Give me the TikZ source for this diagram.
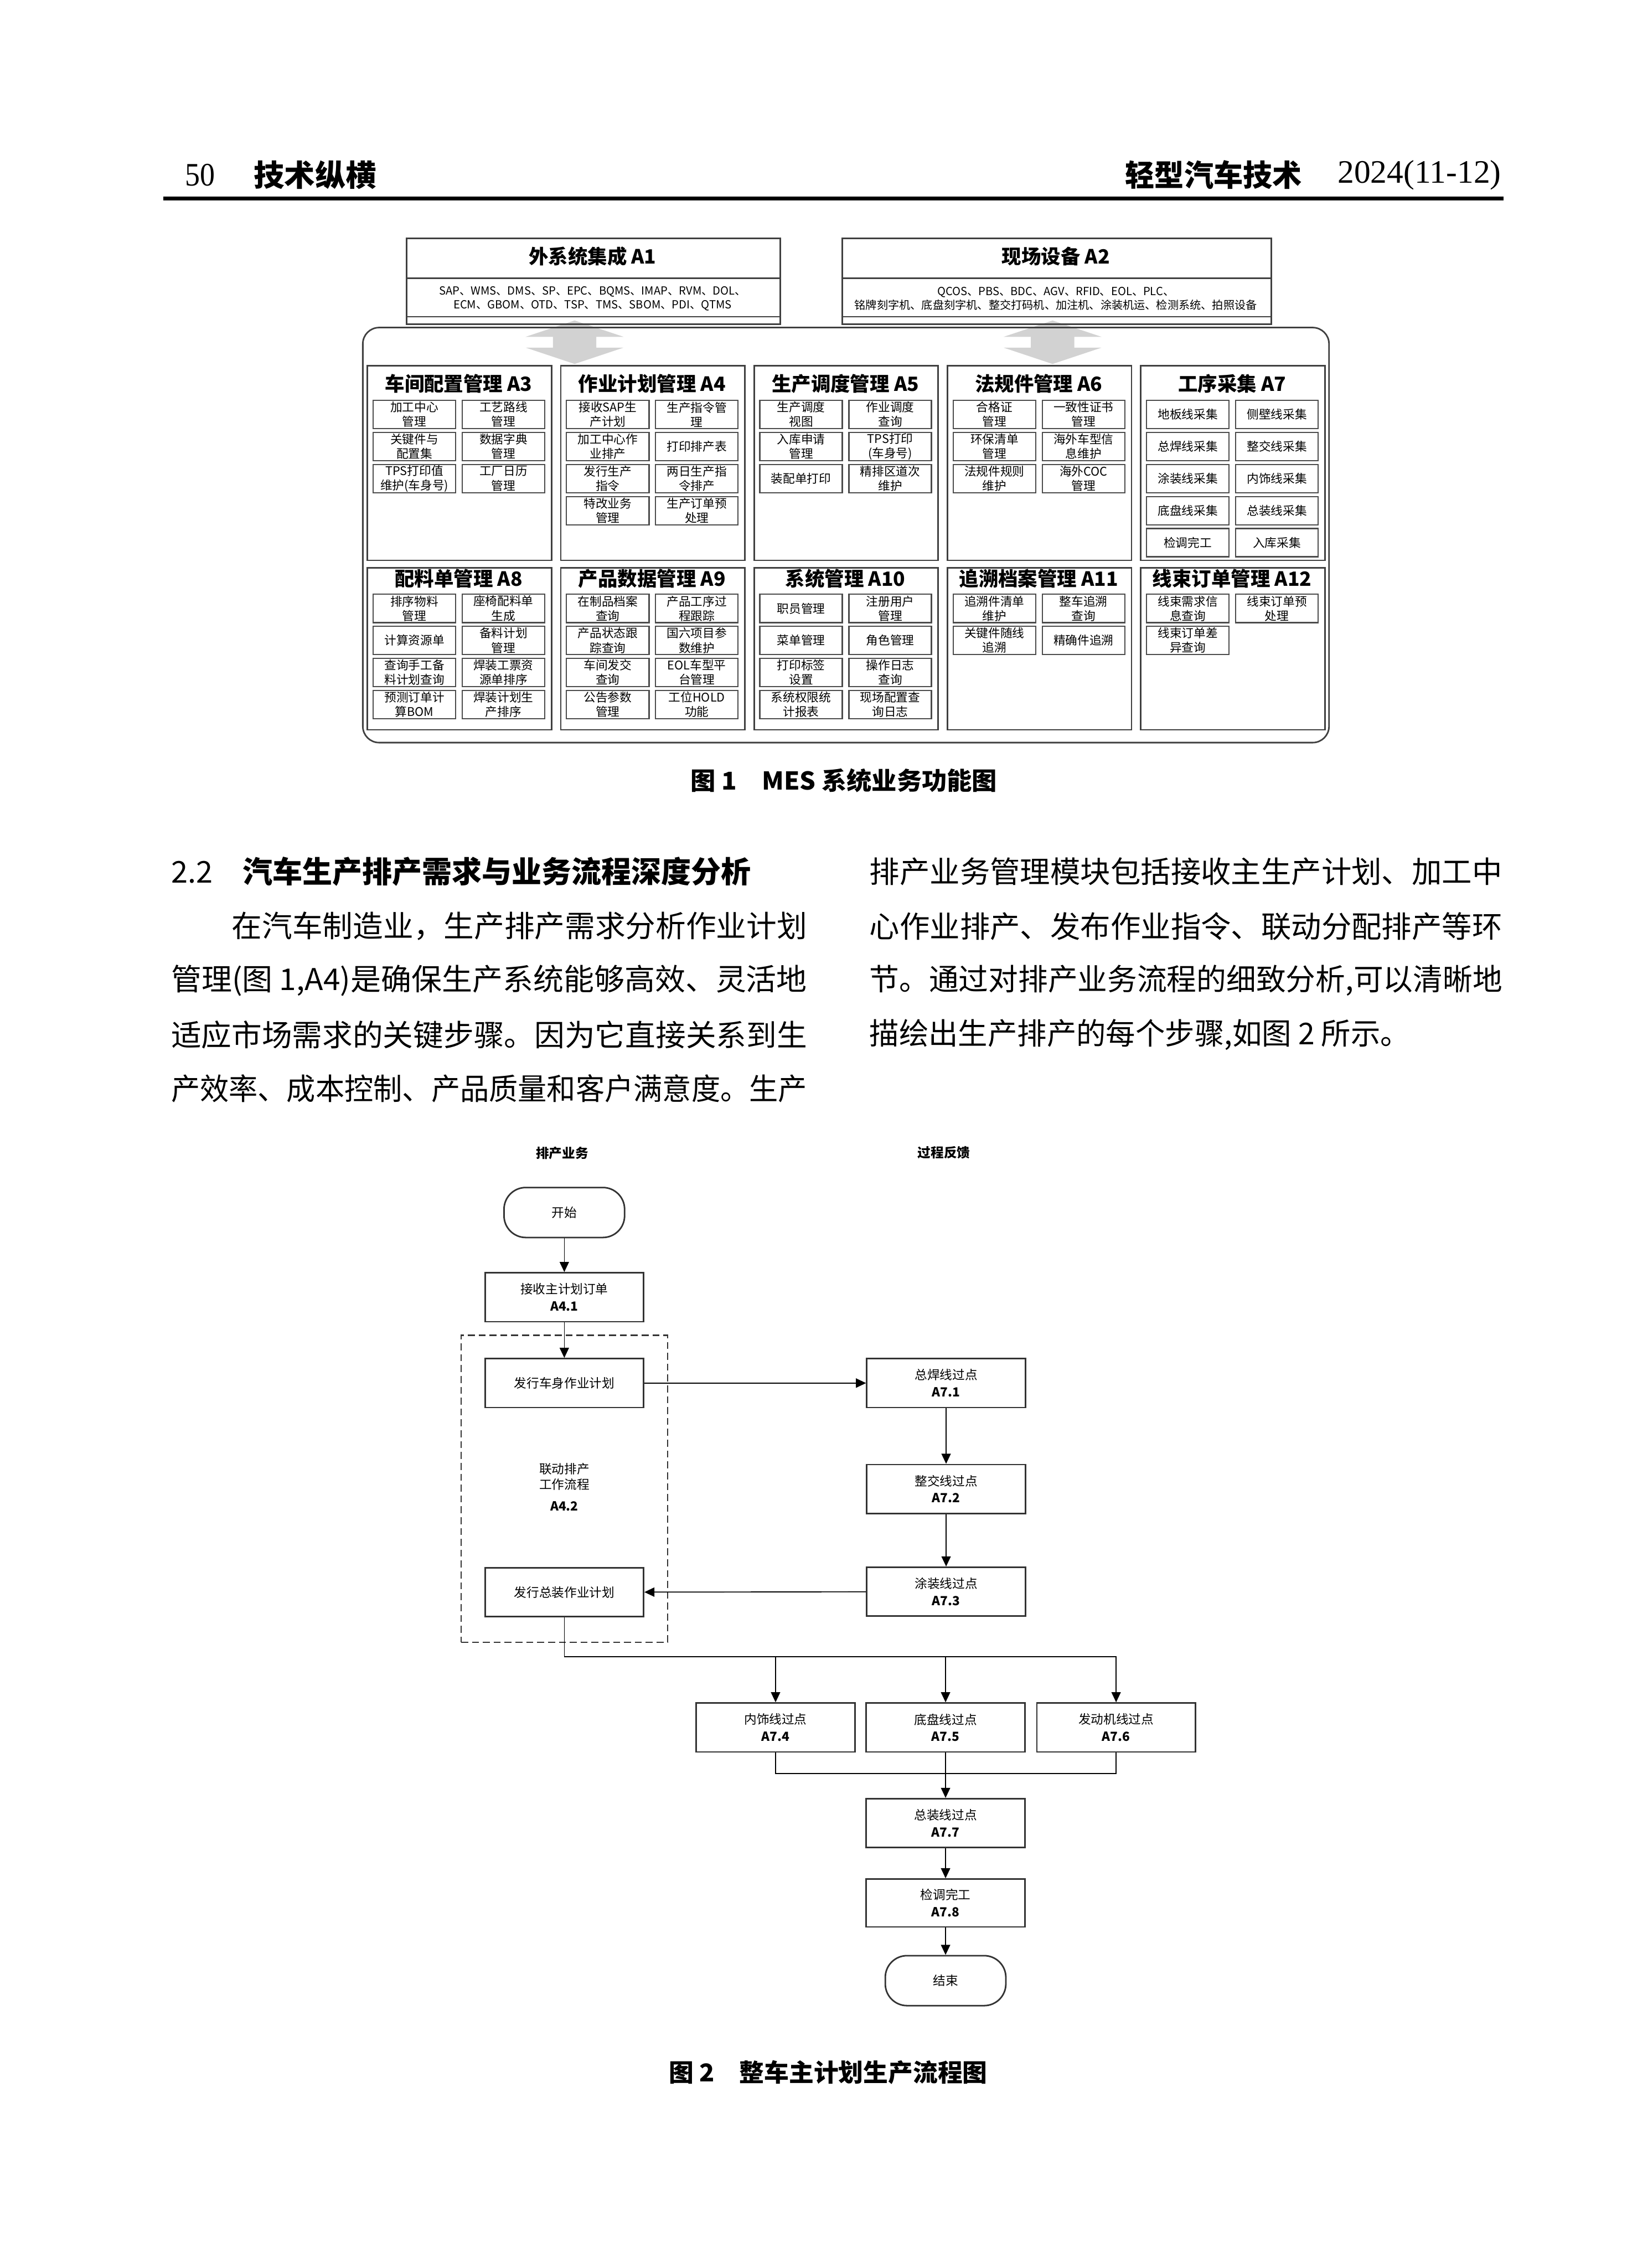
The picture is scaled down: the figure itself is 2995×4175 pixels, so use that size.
\documentclass[tikz,border=0pt]{standalone}
\usepackage{fontspec}
\setmainfont{Noto Sans CJK SC}
\newfontfamily\tnr{Liberation Serif}
\usepackage{graphicx}
\usetikzlibrary{arrows.meta}

\newcommand{\px}{0.07mm}
\newcommand{\riga}[2]{\resizebox{\dimexpr0.07mm*#1\relax}{\height}{#2}}

\tikzset{
  cornice/.style={draw=black!75,line width=0.2mm},
  modulo/.style={cornice,minimum width=339*\px,inner sep=0pt},
  titolo/.style={inner sep=0pt,font=\fontsize{7.2}{8}\selectfont\bfseries},
  elenco/.style={inner sep=0pt,align=center,font=\fontsize{4.1}{5}\selectfont},
  voce/.style={draw=black!70,line width=0.17mm,minimum width=152*\px,minimum height=52*\px,inner sep=0pt,align=center,font=\fontsize{4.4}{5.3}\selectfont},
  blocco/.style={draw=black!80,line width=0.2mm,minimum width=292*\px,minimum height=90*\px,inner sep=0pt,align=center,font=\fontsize{4.6}{6.2}\selectfont},
  terminale/.style={blocco,rounded corners=2.8mm,minimum width=222*\px,minimum height=92*\px},
  gruppo/.style={draw=black!80,line width=0.18mm,dash pattern=on 0.9mm off 0.5mm,minimum width=380*\px,minimum height=565*\px,inner sep=0pt},
  corsia/.style={inner sep=0pt,font=\fontsize{4.8}{6}\selectfont\bfseries},
  freccia/.style={-{Triangle[length=1.3mm,width=1.2mm]},line width=0.12mm},
  linea/.style={line width=0.12mm},
  corpo/.style={anchor=west,inner sep=0pt,font=\fontsize{11}{13}\selectfont},
  didascalia/.style={inner sep=0pt,font=\fontsize{9}{11}\selectfont\bfseries},
}

% riquadro modulo: nome, x sinistra, y alto, y basso, y titolo, y prima riga, titolo, voci
\newcommand{\riquadro}[8]{%
  \node[modulo,anchor=north west,minimum height={(#4-#3)*\px}] (#1) at (#2,#3) {};
  \node[titolo] (#1-t) at (#2+169.5,#5) {#7};
  \foreach \testo [count=\i from 0] in {#8} {%
    \pgfmathsetmacro\cx{#2+88+164*mod(\i,2)}%
    \pgfmathsetmacro\cy{#6+59*int(\i/2)}%
    \node[voce] (#1-\i) at (\cx,\cy) {\testo};}%
}
% freccia grigia tra i livelli
\newcommand{\frecciagrigia}[1]{\fill[gray!35] (#1,590)--(#1+90,620)--(#1+40,620)--(#1+40,640)--(#1+90,640)--(#1,670)--(#1-90,640)--(#1-40,640)--(#1-40,620)--(#1-90,620)--cycle;}

\begin{document}
\begin{tikzpicture}[x=0.07mm,y=-0.07mm]
\fill[white] (0,0) rectangle (2995,4175);
\useasboundingbox (0,0) rectangle (2995,4175);

%testata
\node[anchor=west,inner sep=0pt,font=\tnr\fontsize{12}{14}\selectfont] (pag) at (340,322) {\riga{55}{50}};
\node[anchor=west,inner sep=0pt,font=\fontsize{11}{13}\selectfont\bfseries] (rubrica) at (466,322) {\riga{226}{技术纵横}};
\node[anchor=west,inner sep=0pt,font=\fontsize{11}{13}\selectfont\bfseries] (rivista) at (2071,322) {\riga{325}{轻型汽车技术}};
\node[anchor=west,inner sep=0pt,font=\tnr\fontsize{12}{14}\selectfont] (anno) at (2462,322) {\riga{301}{2024(11-12)}};
\draw[line width=0.5mm] (301,365) -- (2768,365);

%figura 1
\frecciagrigia{1058}
\frecciagrigia{1938}
\node[cornice,anchor=north west,minimum width=688*\px,minimum height=158*\px,inner sep=0pt] (a1) at (747,437) {};
\draw[cornice] (747,512) -- (1435,512);
\draw[cornice] (747,583) -- (1435,583);
\node[titolo] (a1-t) at (1091,472) {外系统集成 A1};
\node[elenco] (a1-c) at (1091,550) {SAP、WMS、DMS、SP、EPC、BQMS、IMAP、RVM、DOL、\\ECM、GBOM、OTD、TSP、TMS、SBOM、PDI、QTMS};
\node[cornice,anchor=north west,minimum width=790*\px,minimum height=158*\px,inner sep=0pt] (a2) at (1549,437) {};
\draw[cornice] (1549,512) -- (2339,512);
\draw[cornice] (1549,583) -- (2339,583);
\node[titolo] (a2-t) at (1944,472) {现场设备 A2};
\node[elenco] (a2-c) at (1944,550) {QCOS、PBS、BDC、AGV、RFID、EOL、PLC、\\铭牌刻字机、底盘刻字机、整交打码机、加注机、涂装机运、检测系统、拍照设备};
\draw[cornice,rounded corners=2.1mm] (668,603) rectangle (2447,1367); %contenitore MES

\riquadro{a3}{675}{672}{1030}{706}{763}{车间配置管理 A3}{{加工中心\\管理},{工艺路线\\管理},{关键件与\\配置集},{数据字典\\管理},{TPS打印值\\维护(车身号)},{工厂日历\\管理}}
\riquadro{a4}{1031}{672}{1030}{706}{763}{作业计划管理 A4}{{接收SAP生\\产计划},{生产指令管\\理},{加工中心作\\业排产},{打印排产表},{发行生产\\指令},{两日生产指\\令排产},{特改业务\\管理},{生产订单预\\处理}}
\riquadro{a5}{1387}{672}{1030}{706}{763}{生产调度管理 A5}{{生产调度\\视图},{作业调度\\查询},{入库申请\\管理},{TPS打印\\(车身号)},{装配单打印},{精排区道次\\维护}}
\riquadro{a6}{1743}{672}{1030}{706}{763}{法规件管理 A6}{{合格证\\管理},{一致性证书\\管理},{环保清单\\管理},{海外车型信\\息维护},{法规件规则\\维护},{海外COC\\管理}}
\riquadro{a7}{2099}{672}{1030}{706}{763}{工序采集 A7}{{地板线采集},{侧壁线采集},{总焊线采集},{整交线采集},{涂装线采集},{内饰线采集},{底盘线采集},{总装线采集},{检调完工},{入库采集}}
\riquadro{a8}{675}{1044}{1342}{1065}{1120}{配料单管理 A8}{{排序物料\\管理},{座椅配料单\\生成},{计算资源单},{备料计划\\管理},{查询手工备\\料计划查询},{焊装工票资\\源单排序},{预测订单计\\算BOM},{焊装计划生\\产排序}}
\riquadro{a9}{1031}{1044}{1342}{1065}{1120}{产品数据管理 A9}{{在制品档案\\查询},{产品工序过\\程跟踪},{产品状态跟\\踪查询},{国六项目参\\数维护},{车间发交\\查询},{EOL车型平\\台管理},{公告参数\\管理},{工位HOLD\\功能}}
\riquadro{a10}{1387}{1044}{1342}{1065}{1120}{系统管理 A10}{{职员管理},{注册用户\\管理},{菜单管理},{角色管理},{打印标签\\设置},{操作日志\\查询},{系统权限统\\计报表},{现场配置查\\询日志}}
\riquadro{a11}{1743}{1044}{1342}{1065}{1120}{追溯档案管理 A11}{{追溯件清单\\维护},{整车追溯\\查询},{关键件随线\\追溯},{精确件追溯}}
\riquadro{a12}{2099}{1044}{1342}{1065}{1120}{线束订单管理 A12}{{线束需求信\\息查询},{线束订单预\\处理},{线束订单差\\异查询}}

\node[didascalia] (cap1) at (1554,1437) {\riga{564}{图 1\quad MES 系统业务功能图}};

%testo
\node[corpo] (s22) at (314,1604) {\riga{1068}{2.2\quad\textbf{汽车生产排产需求与业务流程深度分析}}};
\node[corpo] (l1) at (426,1705) {\riga{1059}{在汽车制造业，生产排产需求分析作业计划}};
\node[corpo] (l2) at (314,1805) {\riga{1171}{管理(图 1,A4)是确保生产系统能够高效、灵活地}};
\node[corpo] (l3) at (314,1905) {\riga{1171}{适应市场需求的关键步骤。因为它直接关系到生}};
\node[corpo] (l4) at (314,2004) {\riga{1171}{产效率、成本控制、产品质量和客户满意度。生产}};
\node[corpo] (r1) at (1600,1604) {\riga{1165}{排产业务管理模块包括接收主生产计划、加工中}};
\node[corpo] (r2) at (1600,1705) {\riga{1165}{心作业排产、发布作业指令、联动分配排产等环}};
\node[corpo] (r3) at (1600,1805) {\riga{1165}{节。通过对排产业务流程的细致分析,可以清晰地}};
\node[corpo] (r4) at (1600,1905) {\riga{995}{描绘出生产排产的每个步骤,如图 2 所示。}};

%figura 2
\node[corsia] (c1) at (1035,2123) {排产业务};
\node[corsia] (c2) at (1738,2122) {过程反馈};
\node[gruppo] (g) at (1039,2740.5) {};
\node[elenco,font=\fontsize{4.6}{5.8}\selectfont] (g-t) at (1039,2737) {联动排产\\工作流程\\[2pt]\textbf{A4.2}};
\node[terminale] (inizio) at (1039,2232) {开始};
\node[blocco] (a41) at (1039,2388) {接收主计划订单\\\textbf{A4.1}};
\node[blocco] (a42a) at (1039,2546) {发行车身作业计划};
\node[blocco] (a42b) at (1039,2931) {发行总装作业计划};
\node[blocco] (a71) at (1742,2546) {总焊线过点\\\textbf{A7.1}};
\node[blocco] (a72) at (1742,2741) {整交线过点\\\textbf{A7.2}};
\node[blocco] (a73) at (1742,2930) {涂装线过点\\\textbf{A7.3}};
\node[blocco] (a74) at (1428,3180) {内饰线过点\\\textbf{A7.4}};
\node[blocco] (a75) at (1741,3180) {底盘线过点\\\textbf{A7.5}};
\node[blocco] (a76) at (2055,3180) {发动机线过点\\\textbf{A7.6}};
\node[blocco] (a77) at (1741,3356) {总装线过点\\\textbf{A7.7}};
\node[blocco,minimum height=88*\px] (a78) at (1741,3503) {检调完工\\\textbf{A7.8}};
\node[terminale] (fine) at (1741,3646) {结束};
\coordinate (snodo) at (1039,3050);
\coordinate (unione) at (1741,3265);

\draw[freccia] (inizio) -- (a41);
\draw[freccia] (a41) -- (a42a);
\draw[freccia] (a42a) -- (a71);
\draw[freccia] (a71) -- (a72);
\draw[freccia] (a72) -- (a73);
\draw[freccia] (a73) -- (a42b);
\draw[freccia] (a42b) -- (snodo) -| (a76);
\draw[freccia] (snodo -| a74) -- (a74);
\draw[freccia] (snodo -| a75) -- (a75);
\draw[linea] (a74) |- (unione) -| (a76);
\draw[freccia] (a75) -- (a77);
\draw[freccia] (a77) -- (a78);
\draw[freccia] (a78) -- (fine);

\node[didascalia] (cap2) at (1525,3815) {\riga{586}{图 2\quad 整车主计划生产流程图}};
\end{tikzpicture}
\end{document}
